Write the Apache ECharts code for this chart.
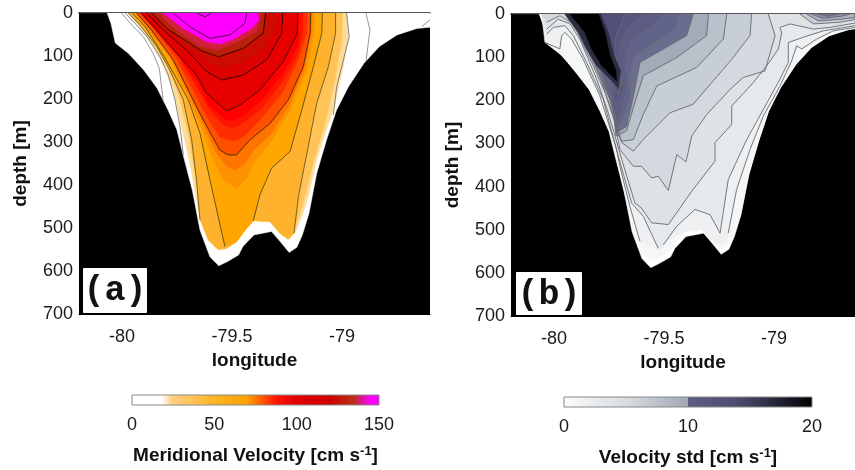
<!DOCTYPE html>
<html><head><meta charset="utf-8">
<style>html,body{margin:0;padding:0;background:#fff}#c{width:855px;height:470px;filter:blur(0.5px)}</style>
<script src="https://cdn.jsdelivr.net/npm/echarts@6/dist/echarts.min.js"></script>
</head><body><div id="c"></div>
<script>
// ---------- shared axes ----------
const lonTicks=[-80,-79.5,-79];
const depthTicks=[0,100,200,300,400,500,600,700];
const velTicks=[0,50,100,150];
const stdTicks=[0,10,20];
// sea floor: [longitude, depth]
const seaFloor=[[-80.067,0],[-80.05,24],[-80.03,70],[-79.97,94],[-79.90,133],[-79.84,175],[-79.79,226],[-79.75,272],[-79.72,334],[-79.68,412],[-79.645,505],[-79.60,567],[-79.56,588],[-79.52,578],[-79.47,563],[-79.45,543],[-79.40,516],[-79.32,508],[-79.28,532],[-79.24,557],[-79.205,545],[-79.18,516],[-79.15,466],[-79.115,373],[-79.07,295],[-79.025,226],[-78.97,171],[-78.90,117],[-78.83,78],[-78.75,51],[-78.66,36],[-78.60,33],[-78.60,0]];
// ---------- panel (a): meridional velocity level boundaries ----------
const aShelf=[[-79.562,550],[-79.524,547],[-79.479,532],[-79.441,505],[-79.403,483],[-79.327,485],[-79.282,512],[-79.244,526]];
const aV18=[[-79.971,0],[-79.903,43],[-79.827,105],[-79.767,179],[-79.729,264],[-79.691,350],[-79.65,466],[-79.608,528],...aShelf,[-79.214,512],[-79.183,474],[-79.153,427],[-79.115,342],[-79.077,280],[-79.039,226],[-78.994,125],[-78.971,55],[-78.979,0]];
const aV28=[[-79.961,0],[-79.888,40],[-79.805,105],[-79.744,187],[-79.698,280],[-79.668,373],[-79.63,481],[-79.585,540],...aShelf,[-79.221,509],[-79.191,466],[-79.161,412],[-79.123,334],[-79.077,257],[-79.032,156],[-79.002,63],[-78.998,0]];
const aG0L=[[-80.002,0],[-79.956,28],[-79.903,55],[-79.858,94],[-79.83,129],[-79.812,206]];
const aG0R=[[-78.891,0],[-78.873,40],[-78.891,113]];
const aG0C=[[-78.638,32],[-78.6,16]];
const aG1L=[[-79.986,0],[-79.933,28],[-79.88,59],[-79.827,102],[-79.789,144],[-79.759,202],[-79.736,264],[-79.721,330]];
const aG1R=[[-79.039,237],[-79.024,171],[-78.986,94],[-78.967,55],[-78.979,0]];
const aL8L=[[-79.971,0],[-79.918,28],[-79.842,78],[-79.782,133],[-79.721,202],[-79.683,295],[-79.661,388],[-79.645,481]];
const aL8R=[[-79.218,512],[-79.198,427],[-79.164,338],[-79.115,210],[-79.062,125],[-79.029,47],[-79.029,0]];
const aL7L=[[-79.953,0],[-79.895,32],[-79.812,98],[-79.752,152],[-79.698,202],[-79.645,280],[-79.6,388],[-79.532,543]];
const aL7R=[[-79.403,483],[-79.373,423],[-79.32,361],[-79.236,322],[-79.183,226],[-79.13,125],[-79.092,47],[-79.089,0]];
const aV57=[[-79.944,0],[-79.88,40],[-79.782,105],[-79.706,187],[-79.645,257],[-79.585,342],[-79.539,388],[-79.479,408],[-79.426,381],[-79.403,350],[-79.327,303],[-79.236,226],[-79.161,133],[-79.127,47],[-79.126,0]];
const aV65=[[-79.938,0],[-79.873,40],[-79.774,105],[-79.698,187],[-79.63,257],[-79.57,326],[-79.524,357],[-79.486,365],[-79.441,350],[-79.403,319],[-79.327,284],[-79.244,218],[-79.173,133],[-79.139,47],[-79.138,0]];
const aL6=[[-79.933,0],[-79.865,40],[-79.767,109],[-79.691,187],[-79.63,249],[-79.555,319],[-79.517,330],[-79.479,330],[-79.418,295],[-79.327,257],[-79.244,202],[-79.176,125],[-79.145,47],[-79.142,0]];
const aV80=[[-79.921,0],[-79.85,40],[-79.752,105],[-79.676,179],[-79.615,241],[-79.555,288],[-79.494,299],[-79.448,288],[-79.373,249],[-79.274,187],[-79.198,109],[-79.161,47],[-79.158,0]];
const aV88=[[-79.915,0],[-79.845,40],[-79.744,102],[-79.661,171],[-79.6,226],[-79.539,260],[-79.494,268],[-79.441,253],[-79.358,218],[-79.267,156],[-79.206,102],[-79.179,47],[-79.176,0]];
const aV95=[[-79.912,0],[-79.843,40],[-79.74,102],[-79.652,165],[-79.605,215],[-79.535,246],[-79.49,250],[-79.44,235],[-79.36,200],[-79.262,135],[-79.2,75],[-79.19,0]];
const aL5=[[-79.911,0],[-79.842,40],[-79.736,102],[-79.661,144],[-79.615,187],[-79.524,228],[-79.464,214],[-79.373,179],[-79.267,113],[-79.203,47],[-79.202,0]];
const aL4=[[-79.888,0],[-79.82,36],[-79.691,94],[-79.615,136],[-79.547,156],[-79.448,144],[-79.342,109],[-79.274,47],[-79.27,0]];
const aV120=[[-79.876,0],[-79.812,36],[-79.676,90],[-79.6,117],[-79.547,129],[-79.456,117],[-79.358,86],[-79.305,40],[-79.3,0]];
const aL3=[[-79.865,0],[-79.797,36],[-79.645,86],[-79.562,102],[-79.448,82],[-79.358,47],[-79.347,0]];
const aV135=[[-79.839,0],[-79.752,40],[-79.645,78],[-79.57,86],[-79.471,67],[-79.388,43],[-79.365,0]];
const aV145=[[-79.812,0],[-79.721,36],[-79.615,67],[-79.555,72],[-79.494,61],[-79.411,36],[-79.376,16],[-79.385,0]];
const aL2=[[-79.767,0],[-79.691,32],[-79.6,59],[-79.509,51],[-79.441,24],[-79.433,0]];
const aL1=[[-79.661,0],[-79.623,9],[-79.592,0]];
// ---------- panel (b): velocity std level boundaries ----------
const bBase=[[-80.05,0],[-80.03,68],[-79.965,95],[-79.9,136],[-79.835,178],[-79.785,229],[-79.745,275],[-79.715,337],[-79.68,415],[-79.64,505],[-79.6,555],[-79.56,572],[-79.52,565],[-79.47,548],[-79.45,530],[-79.4,505],[-79.32,497],[-79.28,522],[-79.24,545],[-79.205,535],[-79.18,505],[-79.15,460],[-79.113,370],[-79.068,292],[-79.023,223],[-78.968,168],[-78.898,114],[-78.828,75],[-78.748,48],[-78.63,32],[-78.63,0]];
const bK1L=[[-80.041,66],[-79.973,81],[-79.965,50],[-79.95,43],[-79.92,58],[-79.867,105],[-79.791,190],[-79.715,314],[-79.70,353],[-79.655,446],[-79.609,527]];
const bK1B=[[-79.518,548],[-79.458,517],[-79.397,504],[-79.329,500],[-79.261,535],[-79.215,527]];
const bK1R=[[-79.208,508],[-79.17,407],[-79.109,314],[-79.048,236],[-78.973,167],[-78.92,109],[-78.897,74],[-78.874,81],[-78.806,58],[-78.73,39],[-78.632,31]];
const bK2L=[[-80.033,47],[-80.003,31],[-79.95,27],[-79.912,50],[-79.852,112],[-79.776,198],[-79.708,329],[-79.647,438],[-79.594,469],[-79.526,543]];
const bK2R=[[-79.503,535],[-79.442,492],[-79.359,453],[-79.291,465],[-79.245,508],[-79.208,384],[-79.124,291],[-79.048,221],[-78.973,151],[-78.935,112],[-78.935,66],[-78.867,54],[-78.776,39],[-78.632,27]];
const bK3=[[-80.033,35],[-79.98,12],[-79.927,23],[-79.882,58],[-79.806,151],[-79.753,229],[-79.692,337],[-79.632,438],[-79.602,450],[-79.556,484],[-79.48,488],[-79.374,411],[-79.268,341],[-79.268,298],[-79.192,256],[-79.192,213],[-79.094,159],[-79.033,120],[-78.98,81],[-78.965,43],[-78.973,31],[-78.927,23],[-78.821,35],[-78.745,31],[-78.632,21]];
const bK4=[[-80.033,19],[-79.973,4],[-79.912,23],[-79.86,66],[-79.80,130],[-79.723,252],[-79.70,314],[-79.639,353],[-79.602,353],[-79.556,380],[-79.526,376],[-79.48,409],[-79.442,326],[-79.40,343],[-79.374,283],[-79.306,233],[-79.192,171],[-79.139,147],[-79.041,132],[-78.995,50],[-79.026,0]];
const bK5=[[-79.95,0],[-79.892,43],[-79.821,120],[-79.761,190],[-79.723,244],[-79.692,298],[-79.639,318],[-79.594,291],[-79.473,229],[-79.367,209],[-79.276,155],[-79.192,105],[-79.109,50],[-79.102,0]];
const bK6=[[-79.945,0],[-79.886,43],[-79.814,120],[-79.745,198],[-79.712,275],[-79.692,295],[-79.639,291],[-79.594,233],[-79.533,167],[-79.352,124],[-79.23,58],[-79.215,0]];
const bK7=[[-79.941,0],[-79.879,43],[-79.806,120],[-79.733,213],[-79.718,283],[-79.67,271],[-79.632,205],[-79.594,143],[-79.442,101],[-79.306,50],[-79.298,0]];
const bK8=[[-79.936,0],[-79.873,43],[-79.798,120],[-79.73,221],[-79.715,275],[-79.67,260],[-79.639,190],[-79.609,112],[-79.397,50],[-79.367,0]];
const bK9=[[-79.932,0],[-79.867,43],[-79.791,120],[-79.723,229],[-79.715,264],[-79.692,244],[-79.655,190],[-79.662,151],[-79.639,101],[-79.533,62],[-79.45,35],[-79.435,0]];
const bK10=[[-79.905,0],[-79.821,50],[-79.753,136],[-79.73,221],[-79.712,248],[-79.692,221],[-79.67,174],[-79.677,128],[-79.67,89],[-79.639,54],[-79.548,27],[-79.503,0]];
const bK11=[[-79.90,0],[-79.806,50],[-79.745,143],[-79.727,198],[-79.708,209],[-79.685,174],[-79.70,128],[-79.70,81],[-79.67,35],[-79.594,0]];
const bK12=[[-79.889,0],[-79.791,50],[-79.738,143],[-79.723,174],[-79.708,190],[-79.697,159],[-79.715,120],[-79.723,58],[-79.677,0]];
const bV1=[[-79.745,155],[-79.708,183],[-79.692,152]];
const bV2=[[-79.738,140],[-79.712,167],[-79.697,140]];
const bDark=[[-79.95,0],[-79.889,43],[-79.852,81],[-79.806,120],[-79.745,151],[-79.708,171],[-79.697,132],[-79.727,97],[-79.753,43],[-79.788,0]];
const bBlack=[[-79.927,0],[-79.859,43],[-79.829,81],[-79.783,120],[-79.73,147],[-79.715,155],[-79.718,132],[-79.745,97],[-79.768,43],[-79.798,0]];
const bR1=[[-78.882,0],[-78.821,23],[-78.70,19],[-78.632,13],[-78.632,0]];
const bR2=[[-78.852,0],[-78.798,16],[-78.692,12],[-78.632,8],[-78.632,0]];
const bR3=[[-78.829,0],[-78.776,10],[-78.692,5],[-78.655,0]];
const bR4=[[-78.798,0],[-78.753,5],[-78.708,0]];

// ---------- styling lists ----------
const aFills=[
 [seaFloor,'#ffffff'],[aV18,'#FFDC96'],[aV28,'#FFC358'],
 [[...aL8L,[-79.608,528],...aShelf,...aL8R],'#FFB22E'],
 [[...aL7L,[-79.479,532],[-79.441,505],...aL7R],'#FFA600'],
 [aV57,'#FF9200'],[aV65,'#FF7400'],[aL6,'#FF5000'],[aV80,'#FF2E00'],[aV88,'#FF1400'],[aV95,'#FF0000'],
 [aL5,'#E60000'],[aL4,'#DC0000'],[aV120,'#CC0C00'],[aL3,'#B82008'],[aV135,'#D0203C'],[aV145,'#FF00FF']];
const aLines=[[aG0L,'#8a8a8a'],[aG0R,'#8a8a8a'],[aG0C,'#8a8a8a'],[aG1L,'#777'],[aG1R,'#777'],[aL8L,'#6a5a20'],[aL8R,'#6a5a20'],[aL7L,'#5a4a18'],[aL7R,'#5a4a18'],[aL6,'#4a2a08'],[aL5,'#3a0a00'],[aL4,'#2a0000'],[aL3,'#2a0000'],[aL2,'#400040'],[aL1,'#400040']];
const bFills=[
 [seaFloor,'#ffffff'],[bBase,'#F5F6F6'],
 [[[-80.056,0],...bK1L,...bK1B,...bK1R,[-78.632,0]],'#EEF0F1'],
 [[[-80.056,0],...bK2L,...bK2R,[-78.632,0]],'#E6E9EB'],
 [[[-80.056,0],...bK3,[-78.632,0]],'#DEE2E5'],
 [[[-80.056,0],...bK4],'#D5D9DF'],
 [bK5,'#C8CED6'],[bK6,'#BAC1CB'],[bK7,'#A3ABB9'],[bK8,'#6B6D8F'],[bK9,'#62638A'],[bK10,'#5C5C84'],[bK11,'#56567E'],[bK12,'#505078'],
 [bR1,'#C8CDD5'],[bR2,'#A8AEBD'],[bR3,'#8A8EA6'],[bR4,'#70748F']];
const bLines=[bK1L,bK1R,bK2L,bK2R,bK3,bK4,bK5,bK6,bK7,bK8,bK9,bK10,bK11,bK12,bV1,bV2,bR1,bR2,bR3,bR4].map(l=>[l,'#666a72']);
const bShadow=[[bDark,'#2c2c42'],[bBlack,'#000000']];
const velStops=[[0,'#ffffff'],[18,'#ffffff'],[25,'#FFD080'],[50,'#FFB428'],[70,'#FFA000'],[88,'#FF1000'],[100,'#E00000'],[120,'#D00000'],[134,'#B83010'],[144,'#FF00FF'],[150,'#FF00FF']];
const stdStops=[[0,'#FBFCFC'],[5,'#D8DDE0'],[10,'#A0A8B5'],[10,'#5C5E82'],[14,'#4C4C70'],[17,'#28283C'],[20,'#000000']];

const font='"Liberation Sans",Arial,sans-serif';
const tickLab={fontFamily:font,fontSize:18,color:'#1a1a1a'};
const nameSt={fontFamily:font,fontSize:19,fontWeight:'bold',color:'#111'};

function layerSeries(list,xi,yi,kind){
  return {type:'custom',xAxisIndex:xi,yAxisIndex:yi,silent:true,clip:true,animation:false,
    data:list.map((l,i)=>[l[0][0][0],l[0][0][1],i]),encode:{x:0,y:1},
    renderItem(p,api){
      const l=list[p.dataIndex];
      const pts=l[0].map(q=>api.coord(q));
      return kind==='fill'
        ?{type:'polygon',shape:{points:pts},style:{fill:l[1],stroke:l[1],lineWidth:0.5}}
        :{type:'polyline',shape:{points:pts},style:{fill:'none',stroke:l[1],lineWidth:0.9}};
    }};
}
function barSeries(stops,maxV,xi,yi){
  return {type:'custom',xAxisIndex:xi,yAxisIndex:yi,silent:true,animation:false,data:[[0,0]],encode:{x:0,y:1},
    renderItem(p,api){
      const a=api.coord([0,1]),b=api.coord([maxV,0]);
      return {type:'rect',shape:{x:a[0],y:a[1],width:b[0]-a[0],height:b[1]-a[1]},
        style:{stroke:'#888',lineWidth:1,fill:new echarts.graphic.LinearGradient(0,0,1,0,stops.map(s=>({offset:s[0]/maxV,color:s[1]})))}};
    }};
}
function lonAxis(g,mn,mx){return [
  {gridIndex:g,type:'value',min:mn,max:mx,position:'bottom',splitLine:{show:false},
   axisLine:{show:true,onZero:false,lineStyle:{color:'#000'}},
   axisTick:{show:false},
   axisLabel:{...tickLab,margin:14,customValues:lonTicks,formatter:v=>String(v)},
   name:'longitude',nameLocation:'middle',nameGap:36,nameTextStyle:nameSt},
  {gridIndex:g,type:'value',min:mn,max:mx,position:'top',splitLine:{show:false},
   axisLine:{show:true,onZero:false,lineStyle:{color:'#222',width:1.5}},
   axisTick:{show:true,inside:true,length:3,lineStyle:{color:'#000',width:1.5},customValues:lonTicks},
   axisLabel:{show:false}}];}
function depthAxis(g){return {gridIndex:g,type:'value',inverse:true,min:0,max:700,interval:100,splitLine:{show:false},
   axisLine:{show:true,onZero:false,lineStyle:{color:'#000'}},axisTick:{show:false},
   axisLabel:{...tickLab,margin:6,customValues:depthTicks},
   name:'depth [m]',nameLocation:'middle',nameGap:49,nameRotate:90,nameTextStyle:nameSt};}
function barAxis(g,mx,ticks,label){return {gridIndex:g,type:'value',min:0,max:mx,position:'bottom',splitLine:{show:false},
   axisLine:{show:false},
   axisTick:{show:true,inside:true,length:10,lineStyle:{color:'#444',type:'dotted'},customValues:ticks.slice(1,-1)},
   axisLabel:{...tickLab,margin:11,customValues:ticks,formatter:v=>String(v)},
   name:label,nameLocation:'middle',nameGap:40,
   nameTextStyle:{...nameSt,rich:{b:{...nameSt},s:{fontFamily:font,fontSize:13,fontWeight:'bold',color:'#111',padding:[0,0,9,0]}}}};}

const chart=echarts.init(document.getElementById('c'),null,{renderer:'canvas',width:855,height:470});
chart.setOption({animation:false,
 grid:[
  {left:79,top:13,width:351,height:301,show:true,backgroundColor:'#000',borderWidth:0},
  {left:511,top:14,width:344,height:302,show:true,backgroundColor:'#000',borderWidth:0},
  {left:132,top:395,width:247,height:10},
  {left:564,top:397,width:248,height:10}],
 xAxis:[...lonAxis(0,-80.195,-78.6),...lonAxis(1,-80.195,-78.632),
  barAxis(2,150,velTicks,'{b|Meridional Velocity [cm s}{s|-1}{b|]}'),
  barAxis(3,20,stdTicks,'{b|Velocity std [cm s}{s|-1}{b|]}')],
 yAxis:[depthAxis(0),depthAxis(1),
  {gridIndex:2,type:'value',min:0,max:1,show:false},{gridIndex:3,type:'value',min:0,max:1,show:false}],
 series:[
  layerSeries(aFills,0,0,'fill'),layerSeries(aLines,0,0,'line'),
  layerSeries(bFills,2,1,'fill'),layerSeries(bLines,2,1,'line'),layerSeries(bShadow,2,1,'fill'),
  barSeries(velStops,150,4,2),barSeries(stdStops,20,5,3)],
 graphic:[
  {type:'rect',z:50,shape:{x:83.5,y:268.5,width:63,height:44},style:{fill:'#fff',stroke:'#fff'}},
  {type:'text',z:51,x:115,y:291,style:{text:'(a)',font:'bold 35px "Liberation Mono",monospace',fill:'#111',textAlign:'center',textVerticalAlign:'middle'}},
  {type:'rect',z:50,shape:{x:516.5,y:272.5,width:65,height:42},style:{fill:'#fff',stroke:'#fff'}},
  {type:'text',z:51,x:549,y:295,style:{text:'(b)',font:'bold 35px "Liberation Mono",monospace',fill:'#111',textAlign:'center',textVerticalAlign:'middle'}}]
});
</script></body></html>
